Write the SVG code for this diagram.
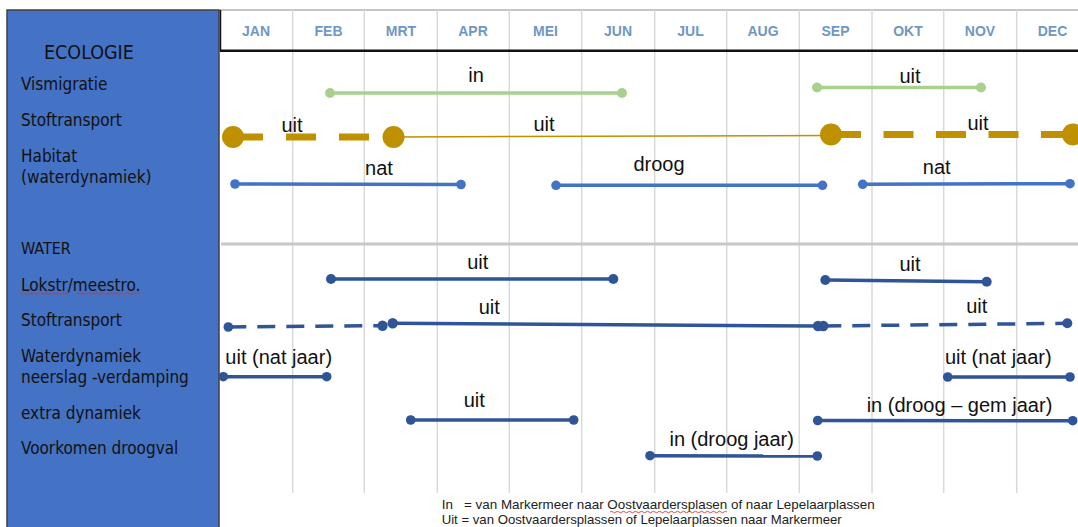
<svg xmlns="http://www.w3.org/2000/svg" width="1078" height="527" viewBox="0 0 1078 527">
<style>
.lbl{font-family:"DejaVu Sans Condensed","DejaVu Sans",sans-serif;font-stretch:condensed;font-size:17px;fill:#111}
.mon{font-family:"Liberation Sans",Arial,sans-serif;font-weight:bold;font-size:14px;fill:#6F97C4;text-anchor:middle}
.t{font-family:"Liberation Sans",Arial,sans-serif;font-size:20px;fill:#111;text-anchor:middle}
.leg{font-family:"Liberation Sans",Arial,sans-serif;font-size:13px;fill:#222}
.grid{stroke:#d9d9d9;stroke-width:1.5}
.green{stroke:#A9D18E;stroke-width:3.5;fill:none}
.gfill{fill:#A9D18E}
.gold{stroke:#BF9000;fill:none}
.goldf{fill:#BF9000}
.hab{stroke:#4472C4;stroke-width:3.5;fill:none}
.habf{fill:#4472C4}
.wat{stroke:#2F5597;stroke-width:3.5;fill:none}
.watf{fill:#2F5597}
.wavy{stroke:#e03030;stroke-width:0.9;fill:none}
</style>
<rect x="0" y="0" width="1078" height="527" fill="#ffffff"/>
<g id="panel">
<rect x="7" y="10" width="212" height="520" fill="#4472C4" stroke="#404040" stroke-width="1.5"/>
<text class="lbl" x="44" y="59" style="font-size:19.5px">ECOLOGIE</text>
<text class="lbl" x="21" y="90">Vismigratie</text>
<text class="lbl" x="21" y="126">Stoftransport</text>
<text class="lbl" x="21" y="162">Habitat</text>
<text class="lbl" x="21" y="183">(waterdynamiek)</text>
<text class="lbl" x="21" y="254" style="font-size:16px">WATER</text>
<text class="lbl" x="21" y="291">Lokstr/meestro.</text>
<path class="wavy" d="M21 293.5 q1.5 -1.5 3 0 t3 0 t3 0 t3 0 t3 0 t3 0 t3 0 t3 0 t3 0 t3 0 t3 0 t3 0 t3 0 t3 0 t3 0 t3 0 M78 293.5 q1.5 -1.5 3 0 t3 0 t3 0 t3 0 t3 0 t3 0 t3 0 t3 0 t3 0 t3 0 t3 0 t3 0 t3 0 t3 0 t3 0 t3 0 t3 0 t3 0 t3 0 t3 0 t3 0"/>
<text class="lbl" x="21" y="326">Stoftransport</text>
<text class="lbl" x="21" y="362">Waterdynamiek</text>
<text class="lbl" x="21" y="383">neerslag -verdamping</text>
<text class="lbl" x="21" y="419">extra dynamiek</text>
<text class="lbl" x="21" y="454">Voorkomen droogval</text>
</g>
<g id="grid">
<line x1="220" y1="10" x2="1078" y2="10" stroke="#8c8c8c" stroke-width="1"/>
<line class="grid" x1="292.7" y1="10" x2="292.7" y2="493"/>
<line class="grid" x1="364.3" y1="10" x2="364.3" y2="493"/>
<line class="grid" x1="437.3" y1="10" x2="437.3" y2="493"/>
<line class="grid" x1="509.3" y1="10" x2="509.3" y2="493"/>
<line class="grid" x1="581.7" y1="10" x2="581.7" y2="493"/>
<line class="grid" x1="654.7" y1="10" x2="654.7" y2="493"/>
<line class="grid" x1="726.7" y1="10" x2="726.7" y2="493"/>
<line class="grid" x1="799.3" y1="10" x2="799.3" y2="493"/>
<line class="grid" x1="872" y1="10" x2="872" y2="493"/>
<line class="grid" x1="943.7" y1="10" x2="943.7" y2="493"/>
<line class="grid" x1="1016.7" y1="10" x2="1016.7" y2="493"/>
<line x1="220.5" y1="10" x2="220.5" y2="51" stroke="#111" stroke-width="1.5"/>
<line x1="220" y1="50.8" x2="1078" y2="50.8" stroke="#111" stroke-width="2.5"/>
<line x1="221" y1="244" x2="1078" y2="244" stroke="#c8c8c8" stroke-width="3"/>
</g>
<g id="months">
<text class="mon" x="256" y="36">JAN</text>
<text class="mon" x="328.5" y="36">FEB</text>
<text class="mon" x="401" y="36">MRT</text>
<text class="mon" x="473" y="36">APR</text>
<text class="mon" x="545.5" y="36">MEI</text>
<text class="mon" x="618" y="36">JUN</text>
<text class="mon" x="690.5" y="36">JUL</text>
<text class="mon" x="763" y="36">AUG</text>
<text class="mon" x="835.5" y="36">SEP</text>
<text class="mon" x="908" y="36">OKT</text>
<text class="mon" x="980" y="36">NOV</text>
<text class="mon" x="1052.5" y="36">DEC</text>
</g>
<g id="connectors">
<line class="green" x1="330" y1="93" x2="622" y2="93"/>
<circle class="gfill" cx="330" cy="93" r="5"/><circle class="gfill" cx="622" cy="93" r="5"/>
<line class="green" x1="817" y1="87.5" x2="981" y2="87.5"/>
<circle class="gfill" cx="817" cy="87.5" r="5"/><circle class="gfill" cx="981" cy="87.5" r="5"/>
<line class="gold" x1="233" y1="137" x2="393" y2="137" stroke-width="7" stroke-dasharray="30 23"/>
<line class="gold" x1="393" y1="137" x2="831" y2="135.5" stroke-width="1.5"/>
<line class="gold" x1="831" y1="134.5" x2="1073" y2="134.5" stroke-width="7" stroke-dasharray="30 22.5"/>
<circle class="goldf" cx="233" cy="137" r="11"/>
<circle class="goldf" cx="393.5" cy="137" r="11"/>
<circle class="goldf" cx="831" cy="134.5" r="11"/>
<circle class="goldf" cx="1073" cy="134.5" r="11"/>
<line class="hab" x1="235" y1="184" x2="461" y2="184.5"/>
<circle class="habf" cx="235" cy="184" r="4.8"/><circle class="habf" cx="461" cy="184.5" r="4.8"/>
<line class="hab" x1="556" y1="185.3" x2="822.5" y2="185.3"/>
<circle class="habf" cx="556" cy="185.3" r="4.8"/><circle class="habf" cx="822.5" cy="185.3" r="4.8"/>
<line class="hab" x1="862.7" y1="184.3" x2="1070" y2="183.7"/>
<circle class="habf" cx="862.7" cy="184.3" r="4.8"/><circle class="habf" cx="1070" cy="183.7" r="4.8"/>
<line class="wat" x1="331" y1="279" x2="613.3" y2="279"/>
<circle class="watf" cx="331" cy="279" r="5"/><circle class="watf" cx="613.3" cy="279" r="5"/>
<line class="wat" x1="825.3" y1="280" x2="986.7" y2="281.7"/>
<circle class="watf" cx="825.3" cy="280" r="5"/><circle class="watf" cx="986.7" cy="281.7" r="5"/>
<line class="wat" x1="228.3" y1="327" x2="382.5" y2="325.7" stroke-dasharray="18 11"/>
<circle class="watf" cx="228.3" cy="327" r="4.8"/><circle class="watf" cx="382.5" cy="325.7" r="5.2"/>
<line class="wat" x1="392.7" y1="323.3" x2="820" y2="326"/>
<circle class="watf" cx="392.7" cy="323.3" r="5.2"/>
<line class="wat" x1="823.3" y1="326" x2="1067.3" y2="323.3" stroke-dasharray="18 11"/>
<circle class="watf" cx="818" cy="326" r="5.2"/><circle class="watf" cx="823.3" cy="326" r="5.2"/>
<circle class="watf" cx="1067.3" cy="323.3" r="5"/>
<line class="wat" x1="223.3" y1="376.7" x2="326.7" y2="376.7"/>
<circle class="watf" cx="223.3" cy="376.7" r="4.8"/><circle class="watf" cx="326.7" cy="376.7" r="4.8"/>
<line class="wat" x1="947.7" y1="377" x2="1070" y2="377"/>
<circle class="watf" cx="947.7" cy="377" r="4.8"/><circle class="watf" cx="1070" cy="377" r="4.8"/>
<line class="wat" x1="410.7" y1="420" x2="573.7" y2="420"/>
<circle class="watf" cx="410.7" cy="420" r="4.8"/><circle class="watf" cx="573.7" cy="420" r="4.8"/>
<line class="wat" x1="817.7" y1="420.5" x2="1072.7" y2="420.7"/>
<circle class="watf" cx="817.7" cy="420.5" r="4.8"/><circle class="watf" cx="1072.7" cy="420.7" r="4.8"/>
<line class="wat" x1="650" y1="455.7" x2="817.3" y2="456"/>
<circle class="watf" cx="650" cy="455.7" r="4.8"/><circle class="watf" cx="817.3" cy="456" r="4.8"/>
</g>
<g id="labels">
<text class="t" x="476" y="82">in</text>
<text class="t" x="910" y="82.5">uit</text>
<text class="t" x="292" y="131.5">uit</text>
<text class="t" x="544" y="131">uit</text>
<text class="t" x="978" y="129.5">uit</text>
<text class="t" x="379" y="174.5">nat</text>
<text class="t" x="659" y="171">droog</text>
<text class="t" x="936.7" y="174.3">nat</text>
<text class="t" x="477.7" y="269">uit</text>
<text class="t" x="910" y="271">uit</text>
<text class="t" x="489.3" y="314.3">uit</text>
<text class="t" x="976.7" y="312.7">uit</text>
<text class="t" x="278.7" y="364">uit (nat jaar)</text>
<text class="t" x="998.3" y="364.3">uit (nat jaar)</text>
<text class="t" x="474.3" y="406.7">uit</text>
<text class="t" x="959.5" y="412.3">in (droog – gem jaar)</text>
<text class="t" x="731.7" y="446">in (droog jaar)</text>
</g>
<g id="legend">
<text class="leg" x="441.7" y="509" textLength="433" lengthAdjust="spacingAndGlyphs" xml:space="preserve">In   = van Markermeer naar Oostvaardersplasen of naar Lepelaarplassen</text>
<path class="wavy" d="M610 512 q1.5 -1.5 3 0 t3 0 t3 0 t3 0 t3 0 t3 0 t3 0 t3 0 t3 0 t3 0 t3 0 t3 0 t3 0 t3 0 t3 0 t3 0 t3 0 t3 0 t3 0 t3 0 t3 0 t3 0 t3 0 t3 0 t3 0 t3 0 t3 0 t3 0 t3 0 t3 0 t3 0 t3 0 t3 0 t3 0 t3 0 t3 0 t3 0 t3 0 t3 0"/>
<text class="leg" x="441.7" y="524" textLength="400" lengthAdjust="spacingAndGlyphs">Uit = van Oostvaardersplassen of Lepelaarplassen naar Markermeer</text>
</g>
</svg>
